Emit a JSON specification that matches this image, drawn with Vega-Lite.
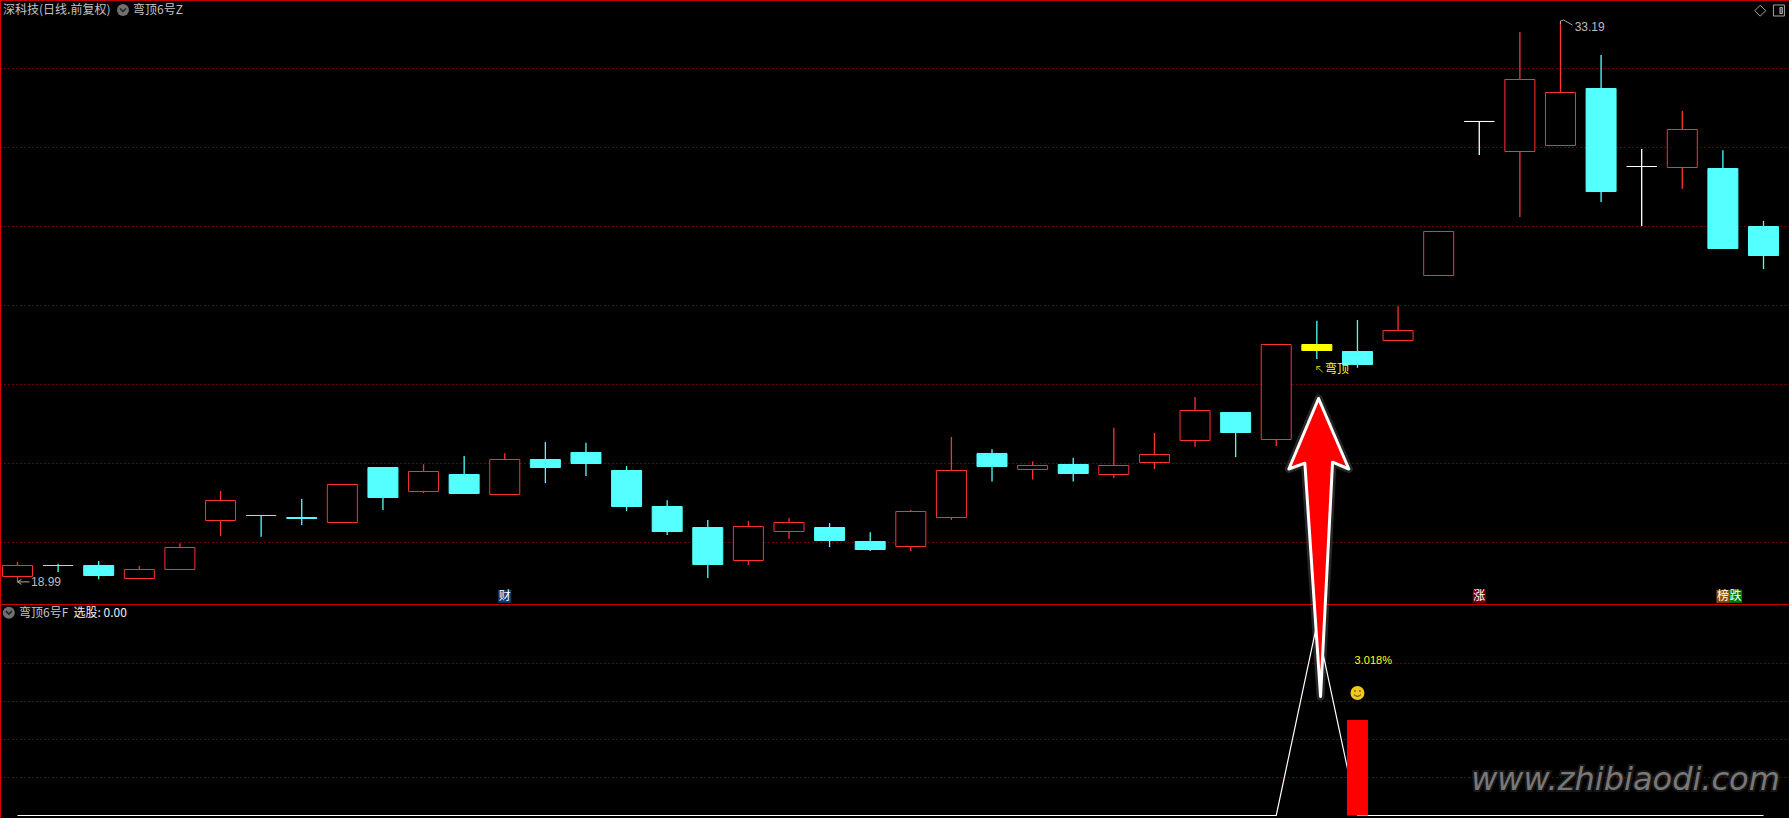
{
"$schema":"https://vega.github.io/schema/vega-lite/v6.json",
"background":"#000000",
"padding":0,
"spacing":0,
"bounds":"flush",
"config":{"view":{"stroke":null},"text":{"font":"Noto Sans CJK SC"}},
"datasets":{
"candles":[
{"day":0,"open":19.127,"high":19.494,"low":18.99,"close":19.405,"dir":"up"},
{"day":1,"open":19.405,"high":19.45,"low":19.24,"close":19.405,"dir":"down"},
{"day":2,"open":19.405,"high":19.52,"low":19.06,"close":19.152,"dir":"down"},
{"day":3,"open":19.076,"high":19.39,"low":19.076,"close":19.304,"dir":"up"},
{"day":4,"open":19.304,"high":19.97,"low":19.304,"close":19.861,"dir":"up"},
{"day":5,"open":20.544,"high":21.291,"low":20.15,"close":21.051,"dir":"up"},
{"day":6,"open":20.671,"high":20.671,"low":20.13,"close":20.671,"dir":"down"},
{"day":7,"open":20.62,"high":21.09,"low":20.43,"close":20.595,"dir":"down"},
{"day":8,"open":20.494,"high":21.456,"low":20.494,"close":21.456,"dir":"up"},
{"day":9,"open":21.886,"high":21.886,"low":20.81,"close":21.127,"dir":"down"},
{"day":10,"open":21.279,"high":21.97,"low":21.24,"close":21.785,"dir":"up"},
{"day":11,"open":21.709,"high":22.18,"low":21.228,"close":21.228,"dir":"down"},
{"day":12,"open":21.203,"high":22.25,"low":21.203,"close":22.089,"dir":"up"},
{"day":13,"open":22.089,"high":22.53,"low":21.49,"close":21.886,"dir":"down"},
{"day":14,"open":22.266,"high":22.51,"low":21.67,"close":21.987,"dir":"down"},
{"day":15,"open":21.81,"high":21.92,"low":20.78,"close":20.899,"dir":"down"},
{"day":16,"open":20.899,"high":21.06,"low":20.18,"close":20.266,"dir":"down"},
{"day":17,"open":20.367,"high":20.56,"low":19.09,"close":19.43,"dir":"down"},
{"day":18,"open":19.532,"high":20.53,"low":19.42,"close":20.392,"dir":"up"},
{"day":19,"open":20.266,"high":20.61,"low":20.08,"close":20.494,"dir":"up"},
{"day":20,"open":20.367,"high":20.48,"low":19.87,"close":20.038,"dir":"down"},
{"day":21,"open":20.013,"high":20.25,"low":19.77,"close":19.81,"dir":"down"},
{"day":22,"open":19.886,"high":20.81,"low":19.77,"close":20.772,"dir":"up"},
{"day":23,"open":20.62,"high":22.66,"low":20.56,"close":21.81,"dir":"up"},
{"day":24,"open":22.241,"high":22.35,"low":21.53,"close":21.911,"dir":"down"},
{"day":25,"open":21.836,"high":22.04,"low":21.58,"close":21.937,"dir":"up"},
{"day":26,"open":21.962,"high":22.13,"low":21.53,"close":21.734,"dir":"down"},
{"day":27,"open":21.709,"high":22.89,"low":21.62,"close":21.937,"dir":"up"},
{"day":28,"open":22.013,"high":22.76,"low":21.85,"close":22.215,"dir":"up"},
{"day":29,"open":22.57,"high":23.67,"low":22.41,"close":23.329,"dir":"up"},
{"day":30,"open":23.279,"high":23.279,"low":22.15,"close":22.772,"dir":"down"},
{"day":31,"open":22.595,"high":25.0,"low":22.43,"close":25.0,"dir":"up"},
{"day":32,"open":25.0,"high":25.6,"low":24.63,"close":24.848,"dir":"signal"},
{"day":33,"open":24.823,"high":25.62,"low":24.41,"close":24.494,"dir":"down"},
{"day":34,"open":25.101,"high":25.97,"low":25.101,"close":25.354,"dir":"up"},
{"day":35,"open":26.747,"high":27.861,"low":26.747,"close":27.861,"dir":"up"},
{"day":36,"open":30.646,"high":30.646,"low":29.8,"close":30.646,"dir":"flat"},
{"day":37,"open":29.886,"high":32.91,"low":28.23,"close":31.709,"dir":"up"},
{"day":38,"open":30.038,"high":33.19,"low":30.038,"close":31.38,"dir":"up"},
{"day":39,"open":31.481,"high":32.33,"low":28.61,"close":28.873,"dir":"down"},
{"day":40,"open":29.506,"high":29.95,"low":28.0,"close":29.506,"dir":"flat"},
{"day":41,"open":29.481,"high":30.91,"low":28.94,"close":30.443,"dir":"up"},
{"day":42,"open":29.456,"high":29.92,"low":27.43,"close":27.43,"dir":"down"},
{"day":43,"open":27.987,"high":28.13,"low":26.91,"close":27.253,"dir":"down"}
],
"pick":[
{"day":0,"value":0},{"day":1,"value":0},{"day":2,"value":0},{"day":3,"value":0},{"day":4,"value":0},{"day":5,"value":0},{"day":6,"value":0},{"day":7,"value":0},{"day":8,"value":0},{"day":9,"value":0},{"day":10,"value":0},{"day":11,"value":0},{"day":12,"value":0},{"day":13,"value":0},{"day":14,"value":0},{"day":15,"value":0},{"day":16,"value":0},{"day":17,"value":0},{"day":18,"value":0},{"day":19,"value":0},{"day":20,"value":0},{"day":21,"value":0},{"day":22,"value":0},{"day":23,"value":0},{"day":24,"value":0},{"day":25,"value":0},{"day":26,"value":0},{"day":27,"value":0},{"day":28,"value":0},{"day":29,"value":0},{"day":30,"value":0},{"day":31,"value":0},{"day":32,"value":1},{"day":33,"value":0},{"day":34,"value":0},{"day":35,"value":0},{"day":36,"value":0},{"day":37,"value":0},{"day":38,"value":0},{"day":39,"value":0},{"day":40,"value":0},{"day":41,"value":0},{"day":42,"value":0},{"day":43,"value":0}
],
"hits":[{"day":33,"value":0.5,"base":0}],
"topnotes":[
{"day":-0.357,"price":33.468,"label":"深科技(日线.前复权)","kind":"header"},
{"day":2.844,"price":33.468,"label":"弯顶6号Z","kind":"header"},
{"day":0.332,"price":18.99,"label":"18.99","kind":"extreme"},
{"day":38.35,"price":33.045,"label":"33.19","kind":"extreme"},
{"day":32.2,"price":24.372,"label":"弯顶","kind":"signal"}
],
"badges":[
{"day":12,"price":18.625,"label":"财","dir":"blue"},
{"day":36,"price":18.625,"label":"涨","dir":"maroon"},
{"day":42,"price":18.625,"label":"榜","dir":"brown"},
{"day":42.31,"price":18.625,"label":"跌","dir":"green"}
],
"topglyphs":[
{"day":42.92,"price":33.451,"glyph":"diamond"},
{"day":43.38,"price":33.456,"glyph":"frame"},
{"day":38,"price":33.19,"glyph":"highmark"},
{"day":0,"price":18.99,"glyph":"lowmark"}
],
"topdisc":[{"day":2.598,"price":33.468}],
"signalmark":[{"day":32,"price":24.443}],
"botnotes":[
{"day":0.037,"value":1.062,"label":"弯顶6号F","kind":"header"},
{"day":1.379,"value":1.062,"label":"选股: 0.00","kind":"pick"},
{"day":32.93,"value":0.809,"label":"3.018%","kind":"gain"}
],
"botdisc":[{"day":-0.214,"value":1.062}],
"smile":[{"day":33,"value":0.641}],
"pointer":[{"day":32,"value":1}],
"site":[{"day":35.8,"value":0.186,"label":"www.zhibiaodi.com"}]
},
"vconcat":[
{"width":1789,"height":604,
"encoding":{"x":{"field":"day","type":"quantitative","scale":{"domain":[-0.431,43.628],"nice":false,"zero":false,"padding":0},"axis":{"orient":"top","title":null,"labels":false,"ticks":false,"grid":false,"domain":true,"domainColor":"#c00000","domainWidth":1}}},
"layer":[
{"data":{"name":"candles"},"mark":{"type":"rule","strokeWidth":1.3},
"encoding":{
"y":{"field":"low","type":"quantitative","scale":{"domain":[18.4304,33.7215],"nice":false,"zero":false},"axis":{"orient":"left","title":null,"labels":false,"ticks":false,"domain":true,"domainColor":"#d80000","domainWidth":1,"grid":true,"values":[20,22,24,26,28,30,32],"gridColor":"#cc0000","gridDash":[1,3],"gridWidth":1}},
"y2":{"field":"high"},
"color":{"field":"dir","type":"nominal","legend":null,"scale":{"domain":["up","down","flat","signal"],"range":["#ff3232","#54ffff","#ffffff","#54ffff"]}}}},
{"data":{"name":"candles"},"mark":{"type":"bar","orient":"vertical","size":30,"strokeWidth":1},
"encoding":{
"y":{"field":"open","type":"quantitative"},
"y2":{"field":"close"},
"fill":{"field":"dir","type":"nominal","legend":null,"scale":{"domain":["up","down","flat","signal","blue","maroon","brown","green"],"range":["#000000","#54ffff","#ffffff","#ffff00","#0a3a6e","#7a0000","#8a4a00","#007a00"]}},
"stroke":{"field":"dir","type":"nominal","legend":null,"scale":{"domain":["up","down","flat","signal"],"range":["#ff3232","#54ffff","#ffffff","#ffff00"]}}}},
{"data":{"name":"badges"},"mark":{"type":"point","shape":"square","size":169,"filled":true,"opacity":1},
"encoding":{"y":{"field":"price","type":"quantitative"},
"fill":{"field":"dir","type":"nominal","legend":null,"scale":{"domain":["up","down","flat","signal","blue","maroon","brown","green"],"range":["#000000","#54ffff","#ffffff","#ffff00","#0a3a6e","#7a0000","#8a4a00","#007a00"]}}}},
{"data":{"name":"badges"},"mark":{"type":"text","fontSize":12,"color":"#ffffff","align":"center","baseline":"middle"},
"encoding":{"y":{"field":"price","type":"quantitative"},"text":{"field":"label"}}},
{"data":{"name":"topnotes"},"transform":[{"filter":"datum.kind=='header'"}],"mark":{"type":"text","fontSize":12,"color":"#c4c4c4","align":"left","baseline":"middle"},
"encoding":{"y":{"field":"price","type":"quantitative"},"text":{"field":"label"}}},
{"data":{"name":"topnotes"},"transform":[{"filter":"datum.kind=='extreme'"}],"mark":{"type":"text","font":"Liberation Sans","fontSize":12,"color":"#bdbdbd","align":"left","baseline":"middle"},
"encoding":{"y":{"field":"price","type":"quantitative"},"text":{"field":"label"}}},
{"data":{"name":"topnotes"},"transform":[{"filter":"datum.kind=='signal'"}],"mark":{"type":"text","fontSize":12,"color":"#ffff00","align":"left","baseline":"middle"},
"encoding":{"y":{"field":"price","type":"quantitative"},"text":{"field":"label"}}},
{"data":{"name":"topdisc"},"mark":{"type":"point","shape":"circle","size":144,"filled":true,"color":"#707070","opacity":1},
"encoding":{"y":{"field":"price","type":"quantitative"}}},
{"data":{"name":"topdisc"},"mark":{"type":"point","shape":"M-3,-1.5L0,1.5L3,-1.5","size":4,"filled":false,"color":"#222222","strokeWidth":1.5,"opacity":1},
"encoding":{"y":{"field":"price","type":"quantitative"}}},
{"data":{"name":"topglyphs"},"mark":{"type":"point","size":4,"filled":false,"color":"#a8a8a8","strokeWidth":1,"opacity":1},
"encoding":{"y":{"field":"price","type":"quantitative"},
"shape":{"field":"glyph","type":"nominal","legend":null,"scale":{"domain":["diamond","frame","highmark","lowmark"],"range":["M0,-5.5L5.5,0L0,5.5L-5.5,0Z","M-5.5,-5.5H5.5V5.5H-5.5ZM1,-3H3.5V3H1ZM2,-3V3","M0,0L3,-1L12,4M0,0L0,3","M0,0H12M0,0L4,-2.5M0,0L4,2.5"]}}}},
{"data":{"name":"signalmark"},"mark":{"type":"point","shape":"M0,0L6,6M0,0H3.5M0,0V3.5","size":4,"filled":false,"color":"#c8c800","strokeWidth":1,"opacity":1},
"encoding":{"y":{"field":"price","type":"quantitative"}}}
]},
{"width":1789,"height":214,
"encoding":{"x":{"field":"day","type":"quantitative","scale":{"domain":[-0.431,43.628],"nice":false,"zero":false,"padding":0},"axis":{"orient":"top","title":null,"labels":false,"ticks":false,"grid":false,"domain":true,"domainColor":"#c80000","domainWidth":1}}},
"layer":[
{"data":{"name":"pick"},"mark":{"type":"line","color":"#ffffff","strokeWidth":1.2,"interpolate":"linear"},
"encoding":{
"y":{"field":"value","type":"quantitative","scale":{"domain":[-0.0131,1.1073],"nice":false,"zero":false},"axis":{"orient":"left","title":null,"labels":false,"ticks":false,"domain":true,"domainColor":"#d80000","domainWidth":1,"grid":true,"values":[0.2,0.4,0.6,0.8],"gridColor":"#cc0000","gridDash":[1,3],"gridWidth":1}}}},
{"data":{"name":"hits"},"mark":{"type":"bar","orient":"vertical","size":21,"color":"#ff0000"},
"encoding":{"y":{"field":"value","type":"quantitative"},"y2":{"field":"base"}}},
{"data":{"name":"botnotes"},"transform":[{"filter":"datum.kind=='header'"}],"mark":{"type":"text","fontSize":12,"color":"#c4c4c4","align":"left","baseline":"middle"},
"encoding":{"y":{"field":"value","type":"quantitative"},"text":{"field":"label"}}},
{"data":{"name":"botnotes"},"transform":[{"filter":"datum.kind=='pick'"}],"mark":{"type":"text","fontSize":12,"color":"#f0f0f0","align":"left","baseline":"middle"},
"encoding":{"y":{"field":"value","type":"quantitative"},"text":{"field":"label"}}},
{"data":{"name":"botnotes"},"transform":[{"filter":"datum.kind=='gain'"}],"mark":{"type":"text","font":"Liberation Sans","fontSize":11,"color":"#ffff00","align":"left","baseline":"middle"},
"encoding":{"y":{"field":"value","type":"quantitative"},"text":{"field":"label"}}},
{"data":{"name":"botdisc"},"mark":{"type":"point","shape":"circle","size":144,"filled":true,"color":"#707070","opacity":1},
"encoding":{"y":{"field":"value","type":"quantitative"}}},
{"data":{"name":"botdisc"},"mark":{"type":"point","shape":"M-3,-1.5L0,1.5L3,-1.5","size":4,"filled":false,"color":"#222222","strokeWidth":1.5,"opacity":1},
"encoding":{"y":{"field":"value","type":"quantitative"}}},
{"data":{"name":"smile"},"mark":{"type":"point","shape":"circle","size":196,"filled":true,"color":"#eec81a","opacity":1},
"encoding":{"y":{"field":"value","type":"quantitative"}}},
{"data":{"name":"smile"},"mark":{"type":"point","shape":"M-2.5,-3V-1M2.5,-3V-1M-3.5,1.5Q0,5 3.5,1.5","size":4,"filled":false,"color":"#4a3a00","strokeWidth":1,"opacity":1},
"encoding":{"y":{"field":"value","type":"quantitative"}}},
{"data":{"name":"site"},"mark":{"type":"text","font":"DejaVu Sans","fontStyle":"italic","fontSize":32,"align":"left","baseline":"middle","stroke":"#1c1c1c","strokeWidth":4,"opacity":0.8},
"encoding":{"y":{"field":"value","type":"quantitative"},"text":{"field":"label"}}},
{"data":{"name":"site"},"mark":{"type":"text","font":"DejaVu Sans","fontStyle":"italic","fontSize":32,"align":"left","baseline":"middle","color":"#787878"},
"encoding":{"y":{"field":"value","type":"quantitative"},"text":{"field":"label"}}},
{"data":{"name":"pointer"},"mark":{"type":"point","shape":"M1.7,-226L32,-155.5L15.7,-162.3L3.7,72L-12,-161.3L-28,-155.5Z","size":4,"filled":false,"stroke":"#ffffff","strokeWidth":8,"strokeJoin":"round","opacity":0.15},
"encoding":{"y":{"field":"value","type":"quantitative"}}},
{"data":{"name":"pointer"},"mark":{"type":"point","shape":"M1.7,-226L32,-155.5L15.7,-162.3L3.7,72L-12,-161.3L-28,-155.5Z","size":4,"filled":true,"fill":"#ff0000","stroke":"#ffffff","strokeWidth":3,"strokeJoin":"round","opacity":1},
"encoding":{"y":{"field":"value","type":"quantitative"}}}
]}
]
}
